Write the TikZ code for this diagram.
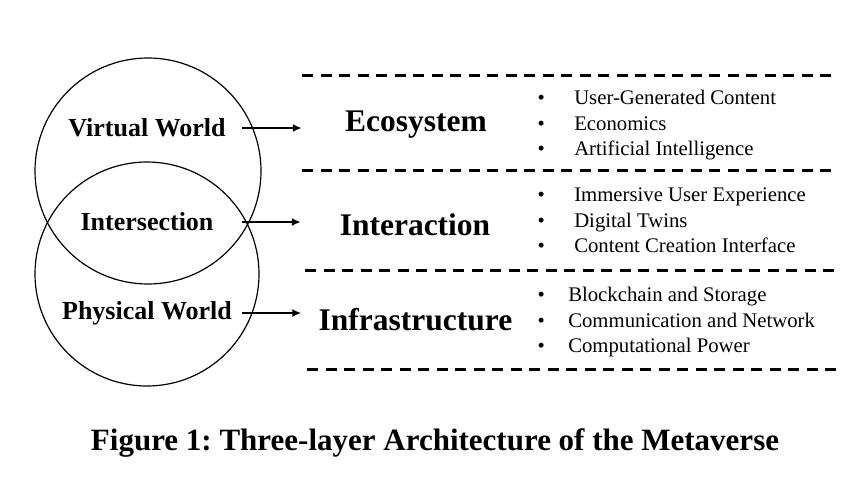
\documentclass[tikz,border=0pt]{standalone}
\usepackage{fontspec}
\setmainfont{Liberation Serif}
\usetikzlibrary{arrows.meta, positioning}

\tikzset{
  world/.style={draw, circle, line width=1.2pt, inner sep=0pt},
  wlabel/.style={font=\fontsize{26}{30}\selectfont\bfseries, minimum width=190pt, inner sep=0pt},
  layer/.style={font=\fontsize{31.5}{36}\selectfont\bfseries, minimum width=228pt, inner sep=0pt},
  items/.style={font=\fontsize{20.75}{25.5}\selectfont, anchor=west, inner sep=0pt},
  link/.style={-{Latex[length=9pt,width=8pt]}, line width=2pt},
  sep/.style={dash pattern=on 11pt off 7.5pt, line width=3pt}
}

\begin{document}
\frenchspacing
\begin{tikzpicture}[x=1pt, y=-1pt]
\useasboundingbox (0,0) rectangle (866,498);

% Two overlapping worlds
\node[world, minimum size=226pt] (upper) at (148,171) {};
\node[world, minimum size=224pt] (lower) at (147,274) {};

% World labels
\node[wlabel] (virtual) at (147,128) {Virtual World};
\node[wlabel] (inter) at (147,222) {Intersection};
\node[wlabel] (physical) at (147,313) {Physical World};

% Layers
\node[layer] (eco) at (416,125) {Ecosystem};
\node[layer] (interaction) at (415,225) {Interaction};
\node[layer] (infra) at (415.5,320) {Infrastructure};

% Arrows
\draw[link] (virtual.east) -- (eco.west |- virtual.east);
\draw[link] (inter.east) -- (interaction.west |- inter.east);
\draw[link] (physical.east) -- (infra.west |- physical.east);

% Dashed separators
\draw[sep] (302,75) -- (833,75);
\draw[sep] (302,170) -- (833,170);
\draw[sep] (305,270) -- (834,270);
\draw[sep] (307,369) -- (836,369);

% Bullet items
\node[items] (ecoitems) at (537.4,125) {\begin{tabular}{@{}c@{\hspace{29.4pt}}l@{}}
\textbullet & User-Generated Content\\
\textbullet & Economics\\
\textbullet & Artificial Intelligence
\end{tabular}};
\node[items] (interitems) at (537.4,222) {\begin{tabular}{@{}c@{\hspace{29.4pt}}l@{}}
\textbullet & Immersive User Experience\\
\textbullet & Digital Twins\\
\textbullet & Content Creation Interface
\end{tabular}};
\node[items] (infraitems) at (537.4,322) {\begin{tabular}{@{}c@{\hspace{23.4pt}}l@{}}
\textbullet & Blockchain and Storage\\
\textbullet & Communication and Network\\
\textbullet & Computational Power
\end{tabular}};

% Caption
\node[font=\fontsize{31}{36}\selectfont\bfseries] (caption) at (435,443) {Figure 1: Three-layer Architecture of the Metaverse};
\end{tikzpicture}
\end{document}
